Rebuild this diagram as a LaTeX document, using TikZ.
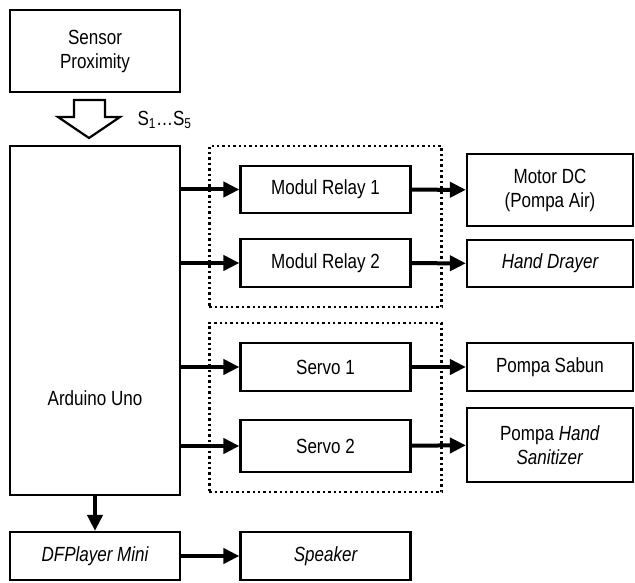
\documentclass[tikz,border=0pt]{standalone}
\usepackage{fontspec}
\setmainfont{Liberation Sans}[FakeStretch=0.83]
\usetikzlibrary{arrows.meta}
\usetikzlibrary{fit}
\tikzset{
  block/.style={draw, line width=2.2pt, minimum width=170pt, inner sep=0pt, align=center},
  link/.style={line width=4pt, -{Triangle[length=16pt,width=15pt]}},
  group/.style={draw, line width=2.4pt, dash pattern=on 2.4pt off 3pt, inner xsep=30pt, inner ysep=19pt},
  every node/.style={font=\fontsize{20.5}{24}\selectfont}
}

\begin{document}
\begin{tikzpicture}[x=1pt, y=-1pt]
  \useasboundingbox (0,0) rectangle (635,583);

  \node [block, minimum height=82pt] (sensor) at (95,51) {Sensor\\Proximity};
  \node [block, minimum height=349pt,
         label={[yshift=-78pt]center:Arduino Uno}] (arduino) at (95,320.5) {};

  % relay group
  \node [block, minimum height=47pt] (relayA) at (325.5,189.5) {Modul Relay 1};
  \node [block, minimum height=48pt] (relayB) at (325.5,263) {Modul Relay 2};
  \node [block, minimum width=166pt, minimum height=72pt] (motor) at (550,190) {Motor DC\\(Pompa Air)};
  \node [block, minimum width=166pt, minimum height=47pt] (dryer) at (550,263.5) {\itshape Hand Drayer};

  % servo group
  \node [block, minimum height=48pt] (servoA) at (325.5,367) {Servo 1};
  \node [block, minimum height=52pt] (servoB) at (325.5,446) {Servo 2};
  \node [block, minimum width=166pt, minimum height=48pt] (sabun) at (550,367) {Pompa Sabun};
  \node [block, minimum width=166pt, minimum height=74pt] (sanitizer) at (550,445) {Pompa \textit{Hand}\\\textit{Sanitizer}};

  \node [block, minimum height=48pt] (player) at (95,556) {\itshape DFPlayer Mini};
  \node [block, minimum height=48pt] (speaker) at (325.5,556) {\itshape Speaker};

  \node [group, fit=(relayA) (relayB)] (relays) {};
  \node [group, fit=(servoA) (servoB), inner ysep=19pt] (servos) {};

  % hollow input arrow
  \coordinate (tip) at (89,138);
  \draw [line width=2.2pt, line join=miter] (74,100) -- (105,100) -- (105,117) -- (120,117)
    -- (tip) -- (58,117) -- (74,117) -- cycle;
  \node [anchor=west] (bus) at (134,120) {S\textsubscript{1}…S\textsubscript{5}};

  \foreach \dst in {relayA, relayB, servoA, servoB}
    \draw [link] (\dst -| arduino.east) -- (\dst);
  \draw [link] (relayA) -- (motor);
  \draw [link] (relayB) -- (dryer);
  \draw [link] (servoA) -- (sabun);
  \draw [link] (servoB) -- (sanitizer);
  \draw [link] (arduino) -- (player);
  \draw [link] (player) -- (speaker);
\end{tikzpicture}
\end{document}
